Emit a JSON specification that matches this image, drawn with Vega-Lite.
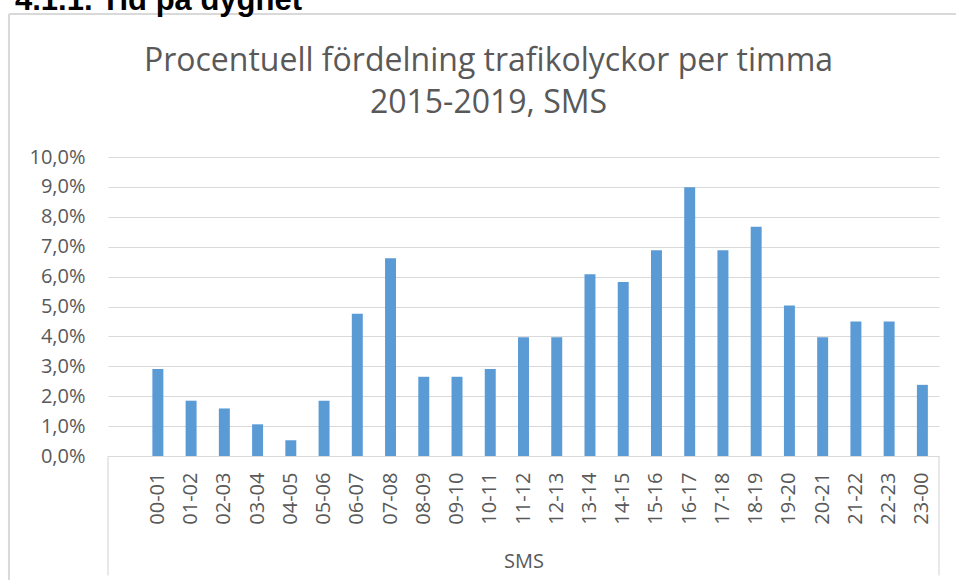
{
  "$schema": "https://vega.github.io/schema/vega-lite/v6.json",
  "autosize": "none",
  "width": 831,
  "height": 299,
  "padding": {"left": 108, "top": 157, "right": 17, "bottom": 124},
  "background": "white",
  "data": {
    "values": [
      {"timme": "00-01", "andel": 0.0291},
      {"timme": "01-02", "andel": 0.0185},
      {"timme": "02-03", "andel": 0.0159},
      {"timme": "03-04", "andel": 0.0106},
      {"timme": "04-05", "andel": 0.0053},
      {"timme": "05-06", "andel": 0.0185},
      {"timme": "06-07", "andel": 0.0476},
      {"timme": "07-08", "andel": 0.0661},
      {"timme": "08-09", "andel": 0.0265},
      {"timme": "09-10", "andel": 0.0265},
      {"timme": "10-11", "andel": 0.0291},
      {"timme": "11-12", "andel": 0.0397},
      {"timme": "12-13", "andel": 0.0397},
      {"timme": "13-14", "andel": 0.0608},
      {"timme": "14-15", "andel": 0.0582},
      {"timme": "15-16", "andel": 0.0688},
      {"timme": "16-17", "andel": 0.0899},
      {"timme": "17-18", "andel": 0.0688},
      {"timme": "18-19", "andel": 0.0767},
      {"timme": "19-20", "andel": 0.0503},
      {"timme": "20-21", "andel": 0.0397},
      {"timme": "21-22", "andel": 0.0450},
      {"timme": "22-23", "andel": 0.0450},
      {"timme": "23-00", "andel": 0.0238}
    ]
  },
  "encoding": {
    "x": {
      "field": "timme",
      "type": "nominal",
      "sort": null,
      "scale": {
        "domain": [" ", "00-01", "01-02", "02-03", "03-04", "04-05", "05-06", "06-07", "07-08", "08-09", "09-10", "10-11", "11-12", "12-13", "13-14", "14-15", "15-16", "16-17", "17-18", "18-19", "19-20", "20-21", "21-22", "22-23", "23-00"],
        "paddingInner": 0,
        "paddingOuter": 0
      },
      "axis": {"title": "SMS"}
    }
  },
  "layer": [
    {
      "mark": {"type": "bar", "color": "#5b9bd5", "width": {"band": 0.33}},
      "encoding": {
        "y": {
          "field": "andel",
          "type": "quantitative",
          "scale": {"domain": [0, 0.1], "nice": false},
          "axis": {"title": null}
        }
      }
    },
    {
      "data": {"values": [{}]},
      "mark": {"type": "rule", "color": "#d9d9d9", "strokeWidth": 1.2, "clip": false},
      "encoding": {
        "x": {"datum": " ", "bandPosition": 0},
        "y": {"datum": 0},
        "y2": {"datum": -0.04}
      }
    },
    {
      "data": {"values": [{}]},
      "mark": {"type": "rule", "color": "#d9d9d9", "strokeWidth": 1.2, "clip": false},
      "encoding": {
        "x": {"datum": "23-00", "bandPosition": 1},
        "y": {"datum": 0},
        "y2": {"datum": -0.04}
      }
    },
    {
      "data": {"values": [{}]},
      "mark": {"type": "rule", "color": "#d9d9d9", "strokeWidth": 2, "clip": false},
      "encoding": {
        "x": {"datum": " ", "bandPosition": -2.98},
        "y": {"datum": 0.1478},
        "y2": {"datum": -0.045}
      }
    },
    {
      "data": {"values": [{}]},
      "mark": {"type": "rule", "color": "#d9d9d9", "strokeWidth": 2, "clip": false},
      "encoding": {
        "x": {"datum": " ", "bandPosition": -2.98},
        "x2": {"datum": "23-00", "bandPosition": 2},
        "y": {"datum": 0.1478}
      }
    },
    {
      "data": {"values": [{}]},
      "mark": {"type": "text", "clip": false, "align": "left", "baseline": "alphabetic", "font": "Liberation Sans", "fontWeight": "bold", "fontSize": 31, "color": "#000000", "text": "4.1.1. Tid på dygnet"},
      "encoding": {
        "x": {"datum": " ", "bandPosition": -2.8},
        "y": {"datum": 0.1492}
      }
    },
    {
      "data": {"values": [{}]},
      "mark": {"type": "text", "clip": false, "align": "center", "baseline": "alphabetic", "font": "Open Sans", "fontSize": 32, "lineHeight": 42, "color": "#595959", "text": ["Procentuell fördelning trafikolyckor per timma", "2015-2019, SMS"]},
      "encoding": {
        "x": {"datum": " ", "bandPosition": 11.447},
        "y": {"datum": 0.12876}
      }
    }
  ],
  "config": {
    "view": {"stroke": null},
    "axis": {
      "labelFont": "Open Sans",
      "labelFontSize": 20,
      "labelColor": "#595959",
      "labelOverlap": false,
      "titleFont": "Open Sans",
      "titleFontSize": 20,
      "titleFontWeight": "normal",
      "titleColor": "#595959",
      "gridColor": "#d9d9d9",
      "gridWidth": 1.2,
      "domain": false,
      "ticks": false
    },
    "axisX": {
      "labelAngle": -90,
      "labelPadding": 16,
      "titlePadding": 27,
      "grid": false
    },
    "axisY": {
      "tickCount": 10,
      "labelExpr": "replace(format(datum.value, '.1%'), '.', ',')",
      "labelPadding": 23,
      "grid": true
    }
  }
}
